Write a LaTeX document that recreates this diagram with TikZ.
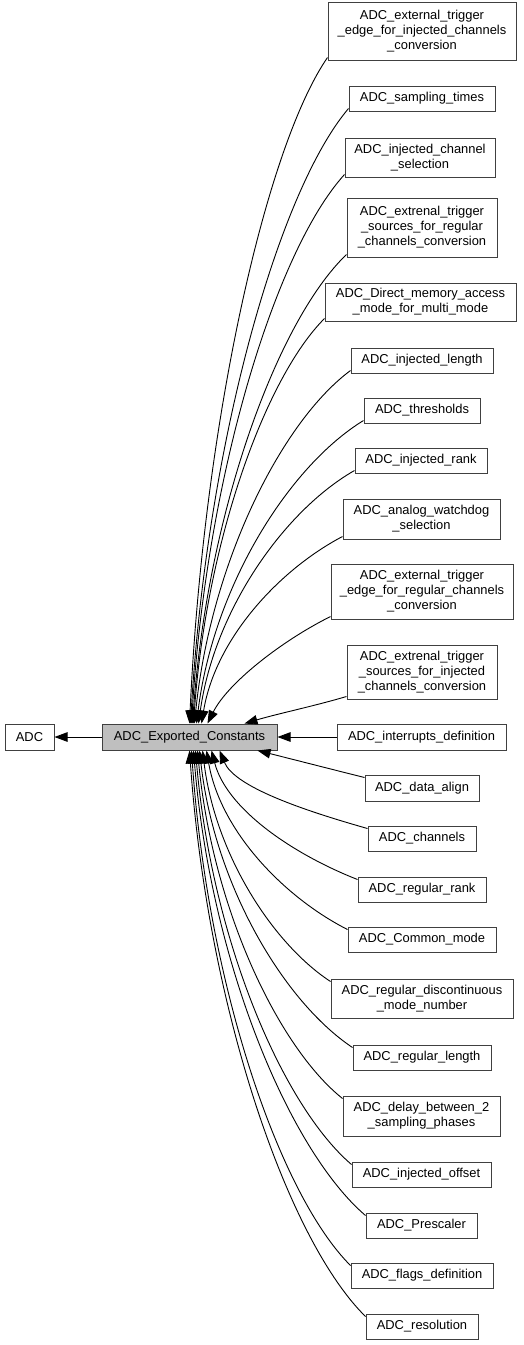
\documentclass[tikz,border=0pt]{standalone}
\usepackage{fontspec}
\setmainfont{Liberation Sans}
\usetikzlibrary{arrows.meta,calc}
\definecolor{bordc}{RGB}{64,64,64}
\definecolor{curfill}{RGB}{191,191,191}
\newcommand\mkbox[7][]{%
  \pgfmathsetmacro\mybw{#4-#2}\pgfmathsetmacro\mybh{#5-#3}%
  \pgfmathsetmacro\mycx{(#2+#4)/2}\pgfmathsetmacro\mycy{(#3+#5)/2}%
  \node[cbox,#1, minimum width=\mybw pt, minimum height=\mybh pt] (#6) at (\mycx,\mycy) {#7};}
\newcommand\tedge[4]{\draw[edge] ($(#1.south west)+(0,-3)$) .. controls +(#2) and +(#3) .. ($(exp.north west)+(#4,0)$);}
\newcommand\bedge[4]{\draw[edge] ($(#1.north west)+(0,3)$) .. controls +(#2) and +(#3) .. ($(exp.south west)+(#4,0)$);}
\begin{document}
\begin{tikzpicture}[x=1pt,y=-1pt,
  cbox/.style={draw=bordc, line width=1pt, fill=white, inner sep=0pt, align=center,
    font=\fontsize{12.9}{15}\selectfont},
  edge/.style={draw=black, line width=0.9pt, -{Triangle[length=13pt,width=9.5pt]}}]
\useasboundingbox (0,0) rectangle (524,1345);
\mkbox{5}{724}{54}{750}{adc}{ADC}
\mkbox[fill=curfill]{102}{724}{277}{750}{exp}{ADC\_Exported\_Constants}
\mkbox{328}{2}{516}{60}{b1}{ADC\_external\_trigger\\\_edge\_for\_injected\_channels\\\_conversion}
\mkbox{349}{86}{495}{111}{b2}{ADC\_sampling\_times}
\mkbox{345}{138}{495}{177}{b3}{ADC\_injected\_channel\\\_selection}
\mkbox{347}{198}{497}{257}{b4}{ADC\_extrenal\_trigger\\\_sources\_for\_regular\\\_channels\_conversion}
\mkbox{325}{283}{516}{321}{b5}{ADC\_Direct\_memory\_access\\\_mode\_for\_multi\_mode}
\mkbox{351}{348}{493}{373}{b6}{ADC\_injected\_length}
\mkbox{364}{398}{480}{423}{b7}{ADC\_thresholds}
\mkbox{355}{448}{487}{473}{b8}{ADC\_injected\_rank}
\mkbox{343}{499}{500}{539}{b9}{ADC\_analog\_watchdog\\\_selection}
\mkbox{331}{564}{513}{619}{b10}{ADC\_external\_trigger\\\_edge\_for\_regular\_channels\\\_conversion}
\mkbox{347}{645}{497}{699}{b11}{ADC\_extrenal\_trigger\\\_sources\_for\_injected\\\_channels\_conversion}
\mkbox{337}{724}{506}{750}{b12}{ADC\_interrupts\_definition}
\mkbox{365}{775}{479}{801}{b13}{ADC\_data\_align}
\mkbox{368}{826}{476}{851}{b14}{ADC\_channels}
\mkbox{358}{877}{486}{902}{b15}{ADC\_regular\_rank}
\mkbox{348}{927}{496}{952}{b16}{ADC\_Common\_mode}
\mkbox{331}{979}{513}{1018}{b17}{ADC\_regular\_discontinuous\\\_mode\_number}
\mkbox{353}{1045}{491}{1070}{b18}{ADC\_regular\_length}
\mkbox{343}{1096}{500}{1136}{b19}{ADC\_delay\_between\_2\\\_sampling\_phases}
\mkbox{352}{1162}{491}{1187}{b20}{ADC\_injected\_offset}
\mkbox{366}{1213}{477}{1238}{b21}{ADC\_Prescaler}
\mkbox{351}{1263}{493}{1288}{b22}{ADC\_flags\_definition}
\mkbox{366}{1314}{478}{1339}{b23}{ADC\_resolution}
\draw[edge] (exp.west) -- (adc.east);
\draw[edge] (b12.west) -- (exp.east);
\tedge{b1}{-62,90}{14,-300}{88}
\tedge{b2}{-71,84}{16,-277}{89}
\tedge{b3}{-69,76}{15,-248}{90}
\tedge{b4}{-69,66}{15,-212}{91}
\tedge{b5}{-59,59}{13,-183}{92}
\tedge{b6}{-70,52}{16,-159}{93}
\tedge{b7}{-75,46}{17,-137}{95}
\tedge{b8}{-70,40}{16,-114}{97}
\tedge{b9}{-63,33}{14,-85}{100}
\tedge{b10}{-50,25}{20,-40}{106}
\tedge{b11}{-34,10}{34,-10}{143}
\bedge{b13}{-36,-9}{36,9}{156}
\bedge{b14}{-67,-19}{15,36}{118}
\bedge{b15}{-66,-26}{15,58}{110}
\bedge{b16}{-63,-32}{14,81}{105}
\bedge{b17}{-58,-38}{13,104}{101}
\bedge{b18}{-69,-46}{15,134}{98}
\bedge{b19}{-65,-52}{15,157}{96}
\bedge{b20}{-70,-60}{16,187}{94}
\bedge{b21}{-77,-66}{17,210}{92}
\bedge{b22}{-72,-72}{16,232}{90}
\bedge{b23}{-79,-78}{18,255}{88}
\end{tikzpicture}
\end{document}
